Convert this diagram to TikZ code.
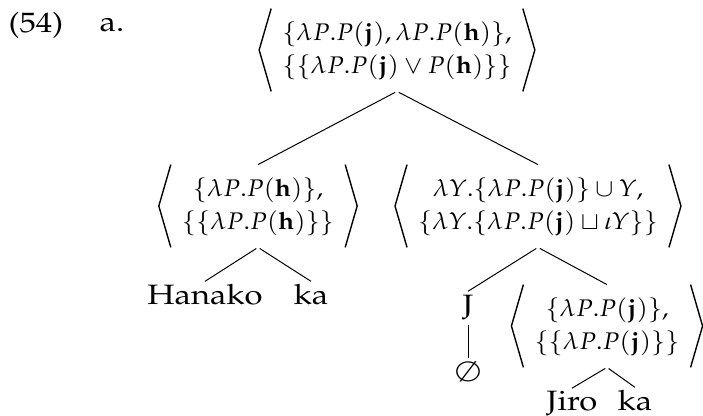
\documentclass[tikz,border=0pt]{standalone}
\usepackage[T1]{fontenc}
\usepackage{mathpazo}
\usepackage{amsmath,amssymb}

\newcommand{\pairbox}[2]{{\fontsize{12}{15}\selectfont\renewcommand{\arraystretch}{1.1}%
   $\begin{array}{@{\hspace{10.5pt}}c@{\hspace{10.5pt}}}#1\\#2\end{array}$}}

\begin{document}
\begin{tikzpicture}[x=0.5pt,y=-0.5pt,
    word/.style={xscale=1.17,font=\fontsize{14}{17}\selectfont,inner sep=1.5pt,anchor=base},
    pair/.style={xscale=1.08,inner sep=0pt,minimum height=41pt},
    angle/.style={line width=0.7pt},
    branch/.style={line width=0.5pt,shorten <=1pt}]
   \useasboundingbox (0,0) rectangle (703,416);
   % example number
   \node[word,anchor=center] (num) at (36,25) {(54)};
   \node[word,anchor=center] (item) at (112,25) {a.};
   % root
   \node[pair] (root) at (397,50)
      {\pairbox{\{\lambda P.P(\mathbf{j}),\lambda P.P(\mathbf{h})\},}{\{\{\lambda P.P(\mathbf{j})\vee P(\mathbf{h})\}\}}};
   % daughters
   \node[pair] (hk) at (258,206)
      {\pairbox{\{\lambda P.P(\mathbf{h})\},}{\{\{\lambda P.P(\mathbf{h})\}\}}};
   \node[pair] (jk) at (538,206)
      {\pairbox{\lambda Y.\{\lambda P.P(\mathbf{j})\}\cup Y,}{\{\lambda Y.\{\lambda P.P(\mathbf{j})\sqcup\iota Y\}\}}};
   \node[word] (hanako) at (205,305) {Hanako};
   \node[word] (ka1) at (311,305) {ka};
   \node[word,anchor=center] (J) at (468,307) {J};
   \node[word,anchor=center] (empty) at (468,372) {$\emptyset$};
   \node[pair] (jiroka) at (607,326)
      {\pairbox{\{\lambda P.P(\mathbf{j})\},}{\{\{\lambda P.P(\mathbf{j})\}\}}};
   \node[word] (jiro) at (572,411) {Jiro};
   \node[word] (ka2) at (635,411) {ka};
   % angle brackets
   \foreach \n in {root,hk,jk,jiroka} {
      \draw[angle] ([xshift=6pt]\n.north west) -- (\n.west) -- ([xshift=6pt]\n.south west);
      \draw[angle] ([xshift=-6pt]\n.north east) -- (\n.east) -- ([xshift=-6pt]\n.south east);
   }
   % branches
   \draw[branch] (root.south) -- (hk.north);
   \draw[branch] (root.south) -- (jk.north);
   \draw[branch] (hk.south) -- (hanako.north);
   \draw[branch] (hk.south) -- (ka1.north);
   \draw[branch] (jk.south) -- (J.north);
   \draw[branch] (jk.south) -- (jiroka.north);
   \draw[branch] (J.south) -- (empty.north);
   \draw[branch] (jiroka.south) -- (jiro.north);
   \draw[branch] (jiroka.south) -- (ka2.north);
\end{tikzpicture}
\end{document}
